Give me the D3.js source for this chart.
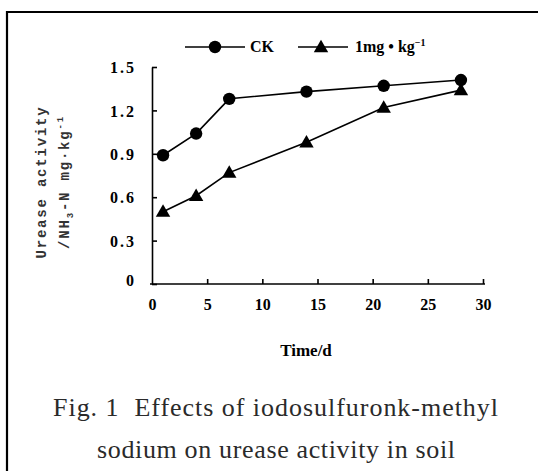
<!DOCTYPE html>
<meta charset="utf-8">
<style>
body { margin: 0; background: #fff; }
.tick text { font-family: "Liberation Serif", serif; font-weight: bold; font-size: 16px; }
.domain, .tick line { stroke: #000; stroke-width: 1.6px; }
.line { fill: none; stroke: #000; stroke-width: 1.6px; }
</style>
<svg width="538" height="471"></svg>
<script src="https://d3js.org/d3.v7.min.js"></script>
<script>

// days sampled
var days = [1, 4, 7, 14, 21, 28];
// urease activity, NH3-N mg/kg
var ckValues = [0.89, 1.04, 1.28, 1.33, 1.37, 1.41];
var doseValues = [0.50, 0.61, 0.77, 0.98, 1.22, 1.34];
var seriesNames = ["CK", "1mg \u2022 kg"];
var xTicks = [0, 5, 10, 15, 20, 25, 30];
var yTicks = [0, 0.3, 0.6, 0.9, 1.2, 1.5];

var svg = d3.select("svg");

// page frame
svg.append("path")
    .attr("d", "M7,480 V12 H545")
    .attr("fill", "none")
    .attr("stroke", "#000")
    .attr("stroke-width", 2.2);

var x = d3.scaleLinear().domain([0, 30]).range([152, 483]),
    y = d3.scaleLinear().domain([0, 1.5]).range([284, 67]);

var gx = svg.append("g")
    .attr("transform", "translate(0," + y(0) + ")")
    .call(d3.axisBottom(x).tickValues(xTicks).tickSize(-5).tickSizeOuter(0).tickPadding(15)
      .tickFormat(d3.format("d")));
gx.select(".domain").attr("d", "M" + (x(0) - 2) + ",0H" + (x(30) + 2));
gx.selectAll(".tick text").attr("font-size", 17);
gx.selectAll(".tick").filter(function(d) { return d === 0; }).select("line").remove();

var gy = svg.append("g")
    .attr("transform", "translate(" + x(0) + ",0)")
    .call(d3.axisLeft(y).tickValues(yTicks).tickSize(-5).tickSizeOuter(0).tickPadding(16)
      .tickFormat(function(d) { return d === 0 ? "0" : d3.format(".1f")(d); }));
gy.selectAll(".tick text").attr("letter-spacing", 2).attr("dy", "0.35em");
gy.selectAll(".tick").filter(function(d) { return d === 0; }).select("text").attr("dy", "0.1em");

var line = d3.line()
    .x(function(d) { return x(d[0]); })
    .y(function(d) { return y(d[1]); });

var ck = d3.zip(days, ckValues),
    dose = d3.zip(days, doseValues);

svg.append("path").attr("class", "line").attr("d", line(ck));
svg.append("path").attr("class", "line").attr("d", line(dose));

var tri = d3.symbol().type(d3.symbolTriangle).size(90);

svg.selectAll(".ck").data(ck).enter().append("circle")
    .attr("cx", function(d) { return x(d[0]); })
    .attr("cy", function(d) { return y(d[1]); })
    .attr("r", 6.2);

svg.selectAll(".dose").data(dose).enter().append("path")
    .attr("d", tri)
    .attr("transform", function(d) { return "translate(" + x(d[0]) + "," + (y(d[1]) + 1) + ")"; });

// legend
var lg = svg.append("g").attr("font-family", "Liberation Serif, serif").attr("font-weight", "bold").attr("font-size", 16);
lg.append("line").attr("x1", 185).attr("x2", 245).attr("y1", 47).attr("y2", 47).attr("stroke", "#000").attr("stroke-width", 1.6);
lg.append("circle").attr("cx", 215).attr("cy", 47).attr("r", 6.2);
lg.append("text").attr("x", 250).attr("y", 52).text(seriesNames[0]);
lg.append("line").attr("x1", 298).attr("x2", 348).attr("y1", 47).attr("y2", 47).attr("stroke", "#000").attr("stroke-width", 1.6);
lg.append("path").attr("d", tri).attr("transform", "translate(321,48)");
var t2 = lg.append("text").attr("x", 355).attr("y", 52).text(seriesNames[1]);
t2.append("tspan").attr("font-size", 10).attr("dy", -6).text("\u22121");

// y axis title
var yt = svg.append("text")
    .attr("transform", "translate(46,182) rotate(-90)")
    .attr("text-anchor", "middle")
    .attr("font-family", "Liberation Mono, monospace")
    .attr("font-weight", "bold")
    .attr("font-size", 14)
    .attr("letter-spacing", 1.8)
    .attr("fill", "#333");
yt.append("tspan").attr("x", 0).attr("dy", 0).text("Urease activity");
var yt2 = yt.append("tspan").attr("x", 0).attr("dy", 23).text("/NH");
yt2.append("tspan").attr("font-size", 9).attr("dy", 4).text("3");
yt.append("tspan").attr("dy", -4).text("-N mg\u00b7kg");
yt.append("tspan").attr("font-size", 9).attr("dy", -6).text("-1");

// x axis title
svg.append("text")
    .attr("x", 306).attr("y", 356)
    .attr("text-anchor", "middle")
    .attr("font-family", "Liberation Serif, serif")
    .attr("font-weight", "bold")
    .attr("font-size", 17)
    .text("Time/d");

// caption
var cap = svg.append("g")
    .attr("font-family", "Liberation Serif, serif")
    .attr("font-size", 26)
    .attr("fill", "#2a2a2a");
cap.append("text").attr("x", 53).attr("y", 416)
    .attr("textLength", 445).attr("lengthAdjust", "spacing")
    .text("Fig. 1\u00a0\u00a0Effects of iodosulfuronk-methyl");
cap.append("text").attr("x", 97).attr("y", 458)
    .attr("textLength", 358).attr("lengthAdjust", "spacing")
    .text("sodium on urease activity in soil");

</script>
